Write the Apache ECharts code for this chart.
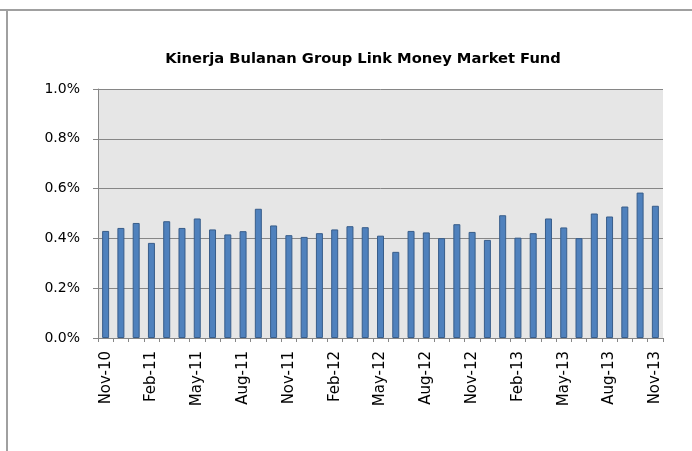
<!DOCTYPE html>
<html><head><meta charset="utf-8">
<script src="https://cdn.jsdelivr.net/npm/echarts@6/dist/echarts.min.js"></script>
<style>html,body{margin:0;padding:0;background:#fff;}#c{width:692px;height:451px;}</style>
</head><body><div id="c"></div>
<script>
const categories = ["Nov-10","Dec-10","Jan-11","Feb-11","Mar-11","Apr-11","May-11","Jun-11","Jul-11","Aug-11","Sep-11","Oct-11",
"Nov-11","Dec-11","Jan-12","Feb-12","Mar-12","Apr-12","May-12","Jun-12","Jul-12","Aug-12","Sep-12","Oct-12",
"Nov-12","Dec-12","Jan-13","Feb-13","Mar-13","Apr-13","May-13","Jun-13","Jul-13","Aug-13","Sep-13","Oct-13","Nov-13"];
const values = [0.430,0.442,0.462,0.382,0.469,0.442,0.480,0.436,0.416,0.429,0.519,0.452,
0.413,0.406,0.421,0.436,0.449,0.445,0.411,0.346,0.430,0.424,0.401,0.457,
0.426,0.394,0.493,0.403,0.421,0.480,0.444,0.401,0.500,0.488,0.528,0.584,0.531];
const yTicks = [0,0.2,0.4,0.6,0.8,1.0];
const titleText = "Kinerja Bulanan Group Link Money Market Fund";

const chart = echarts.init(document.getElementById('c'), null, {renderer:'canvas'});
chart.setOption({
  animation:false,
  backgroundColor:'#fff',
  title:{text:titleText,left:358,top:47,textAlign:'center',
    textStyle:{fontFamily:'DejaVu Sans, sans-serif',fontSize:14.7,fontWeight:'bold',color:'#000'}},
  graphic:[
    {type:'line',shape:{x1:0,y1:10,x2:692,y2:10},style:{stroke:'#a0a0a0',lineWidth:2}},
    {type:'line',shape:{x1:7,y1:10,x2:7,y2:451},style:{stroke:'#a0a0a0',lineWidth:2}}
  ],
  grid:{left:98,top:89,width:565,height:249,show:true,backgroundColor:'#e6e6e6',borderWidth:0},
  xAxis:{type:'category',data:categories,boundaryGap:true,
    axisLine:{lineStyle:{color:'#868686',width:1}},
    axisTick:{show:true,alignWithLabel:false,interval:0,length:4,lineStyle:{color:'#868686'}},
    axisLabel:{interval:2,rotate:90,margin:13,fontFamily:'DejaVu Sans, sans-serif',fontSize:15,color:'#000'}},
  yAxis:{type:'value',min:0,max:1.0,interval:0.2,
    axisLine:{show:true,lineStyle:{color:'#868686',width:1}},
    axisTick:{show:true,length:5,lineStyle:{color:'#868686'}},
    splitLine:{lineStyle:{color:'#868686',width:1}},
    axisLabel:{margin:18,fontFamily:'DejaVu Sans, sans-serif',fontSize:14,color:'#000',
      formatter:v=>v.toFixed(1)+'%'}},
  series:[{type:'bar',data:values,barWidth:7,
    itemStyle:{color:'#4f81bd',borderColor:'#385d8a',borderWidth:1}}]
});
</script></body></html>
